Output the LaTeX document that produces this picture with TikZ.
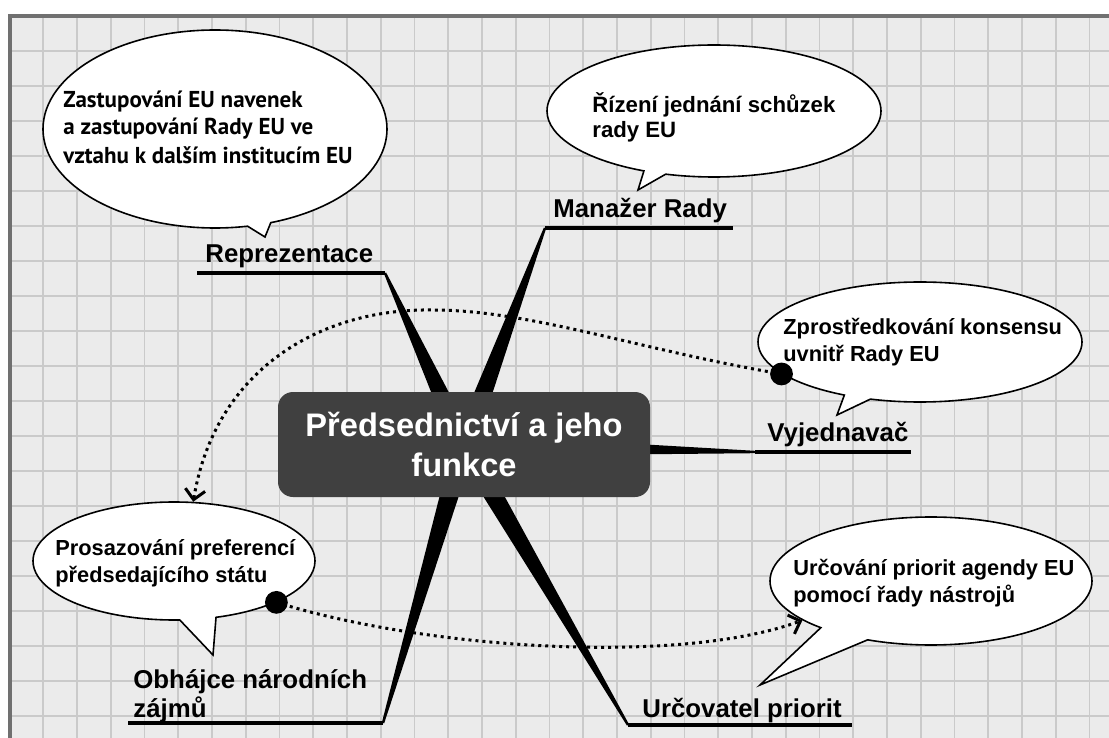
\documentclass[tikz,border=0pt]{standalone}
\usepackage{fontspec}
\setmainfont{Liberation Sans}
\newfontfamily\ptsans{PT Sans}
\usetikzlibrary{calc,shapes.callouts,arrows.meta}
\definecolor{paper}{HTML}{EBEBEB}
\definecolor{gridgray}{HTML}{CACACA}
\definecolor{framegray}{HTML}{707070}
\definecolor{hubgray}{HTML}{404040}

\tikzset{
  gridline/.style={gridgray, line width=0.8pt},
  spoke/.style={fill=black},
  uline/.style={line width=2pt},
  lbl/.style={font=\fontsize{12.9}{14.5}\selectfont\bfseries, inner sep=0pt, align=left},
  bubble/.style={ellipse callout, draw=black, fill=white, line width=0.8pt, inner sep=0pt},
  btext/.style={inner sep=0pt, align=left, font=\fontsize{10.9}{13.5}\selectfont\bfseries},
  link/.style={dotted, line width=1.5pt, -{Straight Barb[length=5pt,width=10pt]}},
}

\begin{document}
\begin{tikzpicture}[x=0.5pt,y=-0.5pt]
\useasboundingbox (0,0) rectangle (1109,738);
\fill[white] (0,0) rectangle (1109,738);
\fill[paper] (9.5,16) rectangle (1109,738);
% grid
\foreach \i in {1,...,32}
  \draw[gridline] ({9.5+33.75*\i},16) -- ({9.5+33.75*\i},738);
\foreach \j in {1,...,20}
  \draw[gridline] (9.5,{16+35*\j}) -- (1109,{16+35*\j});
\draw[framegray, line width=2pt] (9.5,738) -- (9.5,16) -- (1109,16);

% spokes
\coordinate (hub) at (464,445);
\coordinate (repE) at (385,273);
\coordinate (manE) at (545,228);
\coordinate (vyjE) at (755,452);
\coordinate (obhE) at (383,723);
\coordinate (urcE) at (628,725);
\foreach \e in {repE,manE,vyjE,obhE,urcE}
  \fill[spoke] ($(\e)!0.6pt!90:(hub)$) -- ($(hub)!5.5pt!-90:(\e)$)
    -- ($(hub)!5.5pt!90:(\e)$) -- ($(\e)!0.6pt!-90:(hub)$) -- cycle;

% underlines
\coordinate (repS) at (197,273);
\coordinate (manS) at (733,228);
\coordinate (vyjS) at (911,452);
\coordinate (obhS) at (128,723);
\coordinate (urcS) at (852,725);
\draw[uline] (repS) -- (repE);
\draw[uline] (manE) -- (manS);
\draw[uline] (vyjE) -- (vyjS);
\draw[uline] (obhS) -- (obhE);
\draw[uline] (urcE) -- (urcS);

\node[fill=hubgray, rounded corners=7.5pt, minimum width=186pt, minimum height=52.5pt,
  text=white, align=center, font=\fontsize{16.3}{20}\selectfont\bfseries]
  (pres) at (464,444.5) {Předsednictví a jeho\\funkce};

% labels
\node[lbl, anchor=base west] (rep) at (205,263) {Reprezentace};
\node[lbl, anchor=base west] (man) at (553,217) {Manažer Rady};
\node[lbl, anchor=base west] (vyj) at (767,441) {Vyjednavač};
\node[lbl, anchor=base west] (obh) at (133,717) {Obhájce národních\\zájmů};
\node[lbl, anchor=base west] (urcl) at (642,717) {Určovatel priorit};

% bubbles
\node[bubble, minimum width=172pt, minimum height=99pt, callout pointer arc=8,
  callout absolute pointer={(265,237)}] (zastB) at (215,129) {};
\node[bubble, minimum width=167pt, minimum height=66pt, callout pointer arc=8,
  callout absolute pointer={(638,190)}] (rizB) at (714,111) {};
\node[bubble, minimum width=162pt, minimum height=60pt, callout pointer arc=10,
  callout absolute pointer={(837,415)}] (zprB) at (920,342) {};
\node[bubble, minimum width=141pt, minimum height=59pt, callout pointer arc=15,
  callout absolute pointer={(213,655)}] (proB) at (174,561) {};
\node[bubble, minimum width=161pt, minimum height=64pt, callout pointer arc=20,
  callout absolute pointer={(760,685)}] (urcB) at (931,581) {};

\node[btext, anchor=base west, font=\ptsans\fontsize{11.5}{14}\selectfont\bfseries]
  (zast) at (63,163) {Zastupování EU navenek\\a zastupování Rady EU ve\\vztahu k dalším institucím EU};
\node[btext, anchor=base west, font=\fontsize{11.1}{13}\selectfont\bfseries]
  (riz) at (592,138) {Řízení jednání schůzek\\rady EU};
\node[btext, anchor=base west] (zpr) at (783,361) {Zprostředkování konsensu\\uvnitř Rady EU};
\node[btext, anchor=base west] (pro) at (55,582) {Prosazování preferencí\\předsedajícího státu};
\node[btext, anchor=base west] (urc) at (793,602) {Určování priorit agendy EU\\pomocí řady nástrojů};

% links
\coordinate (top) at (433,310);
\draw[link] (zprB.193) .. controls (640,350) and (530,310) .. (top)
  .. controls (320,308) and (215,370) .. (proB.72);
\draw[link] (proB.338) .. controls (430,650) and (680,665) .. (urcB.197);
\fill (zprB.193) circle (5.7pt);
\fill (proB.338) circle (5.7pt);
\end{tikzpicture}
\end{document}
